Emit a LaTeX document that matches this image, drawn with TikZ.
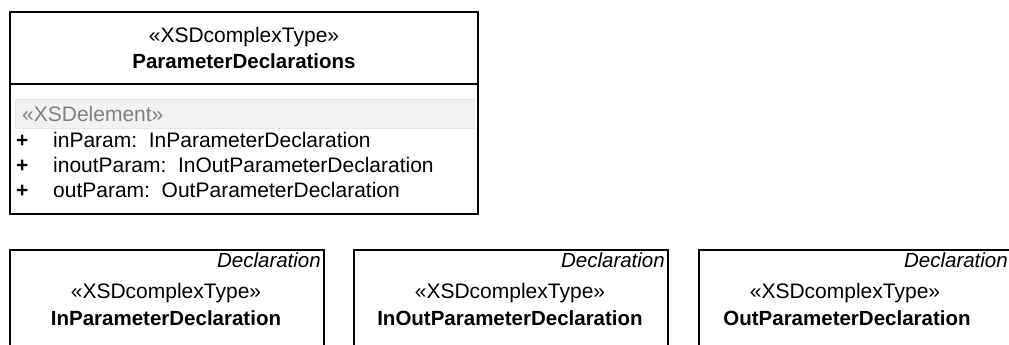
\documentclass[tikz,border=0pt]{standalone}
\usepackage{fontspec}
\setmainfont{Liberation Sans}
\begin{document}
\begin{tikzpicture}[x=1pt,y=-1pt,
  umlbox/.style={draw=black, line width=1.8pt, fill=white, inner sep=0, anchor=north west},
  stband/.style={draw=black!10, line width=0.8pt, fill=black!5, inner sep=0, anchor=north west},
  txt/.style={inner sep=0, anchor=base, font=\fontsize{21}{24}\selectfont},
  txtb/.style={txt, font=\fontsize{20.5}{24}\selectfont\bfseries},
  txtl/.style={txt, anchor=base west},
  txtgrey/.style={txtl, text=black!50},
  txtit/.style={txt, anchor=base east, font=\fontsize{20.5}{24}\selectfont\itshape}
]
\clip (0,0) rectangle (1009,345);
\useasboundingbox (0,0) rectangle (1009,345);
% top class
\node[umlbox, minimum width=468pt, minimum height=202pt] (pd) at (9,11) {};
\draw[line width=1.8pt] (pd.west |- 0,84) coordinate (dl) -- (pd.east |- 0,84) coordinate (dr);
\node[txt] (pdst) at (244,43) {«XSDcomplexType»};
\node[txtb] (pdname) at (244,69) {ParameterDeclarations};
\node[stband, minimum width=459pt, minimum height=29pt] (band) at (15,99) {};
\node[txtgrey] (elst) at (22,121) {«XSDelement»};
\node[txtl] (p1) at (16,147) {\bfseries +};
\node[txtl] (a1) at (53,147) {inParam:\ \ InParameterDeclaration};
\node[txtl] (p2) at (16,172) {\bfseries +};
\node[txtl] (a2) at (53,172) {inoutParam:\ \ InOutParameterDeclaration};
\node[txtl] (p3) at (16,197) {\bfseries +};
\node[txtl] (a3) at (53,197) {outParam:\ \ OutParameterDeclaration};
% bottom classes
\node[umlbox, minimum width=314pt, minimum height=150pt] (ipd) at (9,249) {};
\node[txtit] (ipdd) at (321,267) {Declaration};
\node[txt] (ipds) at (166,298) {«XSDcomplexType»};
\node[txtb] (ipdn) at (166,325) {InParameterDeclaration};
\node[umlbox, minimum width=314pt, minimum height=150pt] (iopd) at (353,249) {};
\node[txtit] (iopdd) at (665,267) {Declaration};
\node[txt] (iopds) at (510,298) {«XSDcomplexType»};
\node[txtb] (iopdn) at (510,325) {InOutParameterDeclaration};
\node[umlbox, minimum width=314pt, minimum height=150pt] (opd) at (698,249) {};
\node[txtit] (opdd) at (1008,267) {Declaration};
\node[txt] (opds) at (845,298) {«XSDcomplexType»};
\node[txtb] (opdn) at (847,325) {OutParameterDeclaration};
\end{tikzpicture}
\end{document}
